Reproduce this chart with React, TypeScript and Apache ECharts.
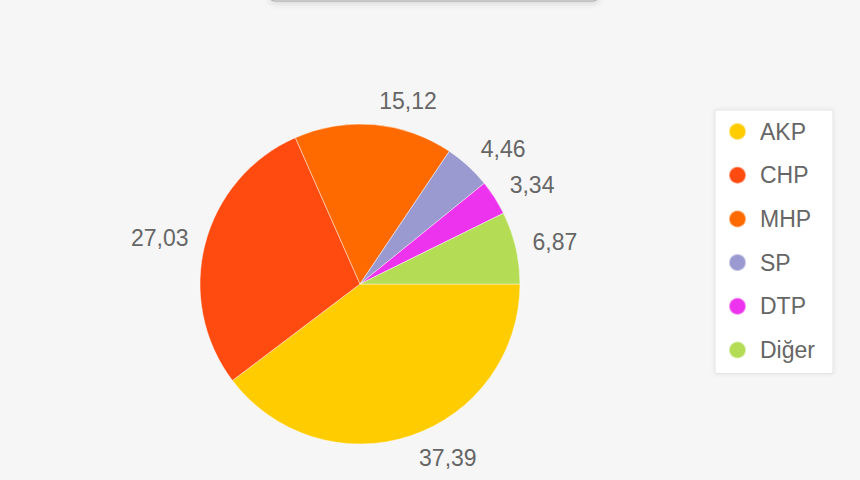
import * as echarts from 'echarts';
import { useEffect, useRef } from 'react';

const parties = ['AKP', 'CHP', 'MHP', 'SP', 'DTP', 'Diğer'];
const shares = [37.39, 27.03, 15.12, 4.46, 3.34, 6.87];
const colors = ['#ffcc00', '#ff4a10', '#ff6a00', '#9a9ad0', '#ee33ee', '#b4dc55'];

const fontFamily = 'Arial, "Liberation Sans", sans-serif';
const pieCenter = [360, 284];

function buildOption() {
  return {
    animation: false,
    backgroundColor: '#f6f6f6',
    color: colors,
    legend: {
      orient: 'vertical',
      left: 715,
      top: 110,
      icon: 'circle',
      itemWidth: 17,
      itemHeight: 17,
      itemGap: 20.7,
      padding: [10, 18, 12, 13],
      backgroundColor: '#ffffff',
      borderColor: '#e4e4e4',
      borderWidth: 1,
      shadowBlur: 4,
      shadowColor: 'rgba(0,0,0,0.08)',
      textStyle: { fontFamily, fontSize: 23, color: '#666', padding: [0, 0, 0, 9] },
      data: parties,
    },
    graphic: [
      {
        type: 'rect',
        shape: { x: 269, y: -30, width: 330, height: 31, r: 6 },
        style: {
          fill: '#f8f8f8',
          stroke: '#b8b8b8',
          lineWidth: 1.5,
          shadowBlur: 6,
          shadowColor: 'rgba(0,0,0,0.12)',
          shadowOffsetY: 2,
        },
      },
    ],
    series: [
      {
        type: 'pie',
        center: pieCenter,
        radius: 160,
        startAngle: 0,
        clockwise: true,
        avoidLabelOverlap: false,
        itemStyle: { borderColor: 'rgba(255,255,255,0.45)', borderWidth: 1 },
        label: {
          show: true,
          position: 'outside',
          fontFamily,
          fontSize: 23,
          color: '#666',
          distanceToLabelLine: 4,
          formatter: (p: { value: number }) => p.value.toFixed(2).replace('.', ','),
        },
        labelLine: { show: false, length: 13, length2: 0 },
        // push the text box outward so its edge, not its middle, sits on the label circle
        labelLayout: (params: { labelRect: { x: number; y: number; width: number; height: number } }) => {
          const r = params.labelRect;
          const angle = Math.atan2(r.y + r.height / 2 - pieCenter[1], r.x + r.width / 2 - pieCenter[0]);
          return { dy: (Math.sin(angle) * r.height) / 2 };
        },
        emphasis: { disabled: true },
        data: parties.map((name, i) => ({ name, value: shares[i] })),
      },
    ],
  };
}

export default function App() {
  const ref = useRef<HTMLDivElement | null>(null);

  useEffect(() => {
    if (!ref.current) return;
    const chart = echarts.init(ref.current, null, { renderer: 'svg' });
    chart.setOption(buildOption());
    return () => chart.dispose();
  }, []);

  return (
    <div
      ref={ref}
      style={{ position: 'fixed', left: 0, top: 0, width: 860, height: 480, background: '#f6f6f6' }}
    />
  );
}
